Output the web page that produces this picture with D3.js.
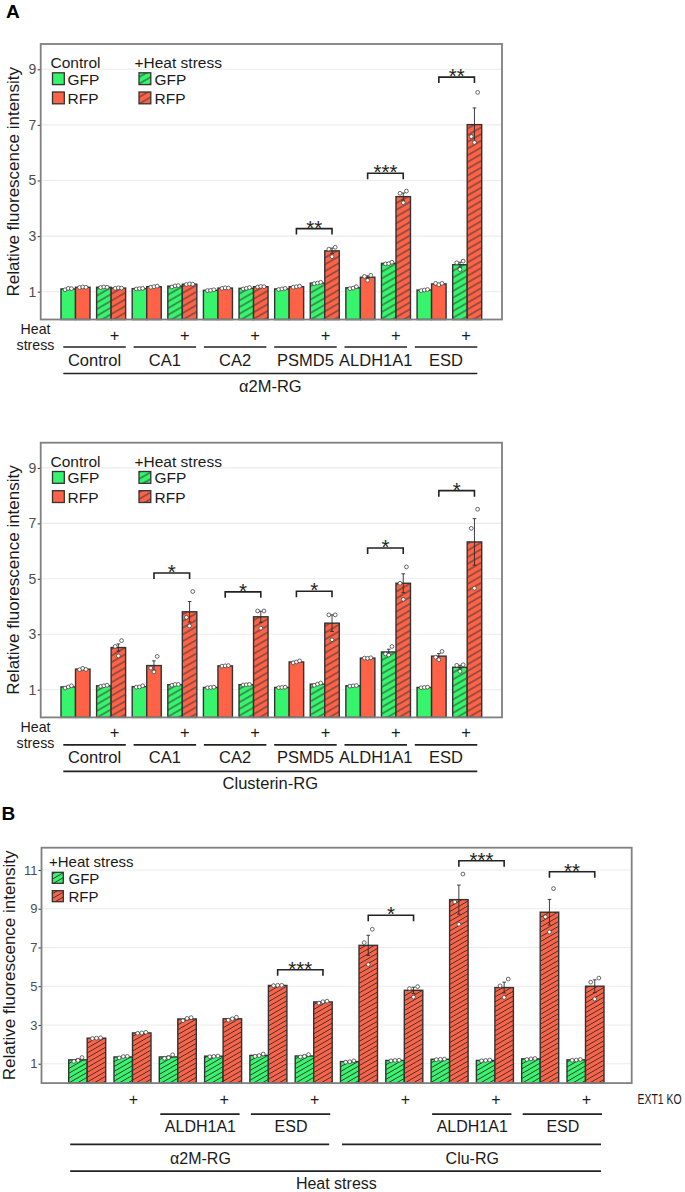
<!DOCTYPE html>
<html><head><meta charset="utf-8">
<script src="https://cdn.jsdelivr.net/npm/d3@7/dist/d3.min.js"></script>
<style>html,body{margin:0;padding:0;background:#fff}</style>
</head><body>
<svg id="fig" width="685" height="1192" xmlns="http://www.w3.org/2000/svg"></svg>
<script>
// ================= DATA =================
const seriesNames = ["GFP", "RFP"];
const groupsA = ["Control", "CA1", "CA2", "PSMD5", "ALDH1A1", "ESD"];
const conditionsA = ["control", "heat"];
const reporterA1 = "α2M-RG";
const reporterA2 = "Clusterin-RG";
const yTicksA = [1, 3, 5, 7, 9];
const yTicksB = [1, 3, 5, 7, 9, 11];
const legendControl = "Control";
const legendHeat = "+Heat stress";
const yTitle = "Relative fluorescence intensity";
const heatStressRowLabel = ["Heat", "stress"];

// --- Panel A, α2M-RG (pairs: group x condition) ---
const a1GFP   = [1.10, 1.16, 1.11, 1.20, 1.05, 1.12, 1.10, 1.31, 1.14, 2.02, 1.06, 1.97];
const a1GFPse = [0.02, 0.01, 0.01, 0.02, 0.01, 0.02, 0.01, 0.02, 0.02, 0.02, 0.01, 0.09];
const a1GFPpts = [[1.07,1.12,1.11],[1.15,1.17,1.16],[1.10,1.11,1.12],[1.17,1.21,1.22],[1.04,1.05,1.07],[1.10,1.12,1.15],
                  [1.08,1.10,1.12],[1.29,1.31,1.34],[1.11,1.13,1.18],[2.00,2.01,2.06],[1.04,1.06,1.08],[2.04,1.80,2.10]];
const a1RFP   = [1.16, 1.13, 1.18, 1.27, 1.13, 1.18, 1.18, 2.47, 1.52, 4.42, 1.28, 7.01];
const a1RFPse = [0.01, 0.01, 0.01, 0.01, 0.01, 0.01, 0.01, 0.10, 0.05, 0.13, 0.02, 0.60];
const a1RFPpts = [[1.15,1.17,1.16],[1.12,1.14,1.13],[1.16,1.18,1.20],[1.26,1.28,1.27],[1.12,1.14,1.13],[1.17,1.19,1.18],
                  [1.16,1.18,1.20],[2.53,2.26,2.60],[1.55,1.41,1.59],[4.54,4.20,4.62],[1.30,1.25,1.30],[6.58,6.37,8.17]];
const a1Brackets = [{from: 6, to: 7, y: 3.27, label: "**"}, {from: 8, to: 9, y: 5.26, label: "***"}, {from: 10, to: 11, y: 8.72, label: "**"}];

// --- Panel A, Clusterin-RG ---
const a2GFP   = [1.10, 1.14, 1.11, 1.18, 1.08, 1.18, 1.08, 1.20, 1.14, 2.36, 1.08, 1.81];
const a2GFPse = [0.02, 0.01, 0.02, 0.01, 0.01, 0.01, 0.01, 0.02, 0.01, 0.10, 0.01, 0.07];
const a2GFPpts = [[1.06,1.10,1.14],[1.12,1.14,1.16],[1.09,1.10,1.14],[1.16,1.19,1.19],[1.07,1.08,1.09],[1.17,1.18,1.19],
                  [1.07,1.08,1.09],[1.16,1.20,1.24],[1.13,1.14,1.15],[2.29,2.25,2.56],[1.07,1.08,1.09],[1.88,1.66,1.90]];
const a2RFP   = [1.74, 2.52, 1.87, 3.81, 1.86, 3.63, 2.00, 3.40, 2.14, 4.84, 2.21, 6.33];
const a2RFPse = [0.02, 0.13, 0.17, 0.37, 0.01, 0.20, 0.03, 0.30, 0.01, 0.34, 0.09, 0.84];
const a2RFPpts = [[1.72,1.77,1.73],[2.56,2.22,2.77],[1.78,1.64,2.20],[3.61,3.30,4.54],[1.85,1.86,1.87],[3.84,3.22,3.84],
                  [1.97,2.00,2.04],[3.70,2.80,3.70],[2.14,2.13,2.15],[4.84,4.26,5.43],[2.17,2.08,2.38],[6.82,4.66,7.51]];
const a2Brackets = [{from: 2, to: 3, y: 5.21, label: "*"}, {from: 4, to: 5, y: 4.53, label: "*"}, {from: 6, to: 7, y: 4.55, label: "*"},
                    {from: 8, to: 9, y: 6.11, label: "*"}, {from: 10, to: 11, y: 8.18, label: "*"}];

// --- Panel B (all heat stress): reporter x gene x EXT1 KO ---
const reportersB = ["α2M-RG", "Clu-RG"];
const genesB = ["", "ALDH1A1", "ESD"];
const koB = ["", "+"];
const koLabel = "EXT1 KO";
const bottomLabelB = "Heat stress";
const bGFP   = [1.20, 1.35, 1.35, 1.39, 1.43, 1.40, 1.11, 1.17, 1.23, 1.17, 1.25, 1.20];
const bGFPse = [0.06, 0.03, 0.05, 0.01, 0.04, 0.04, 0.02, 0.01, 0.01, 0.01, 0.01, 0.01];
const bGFPpts = [[1.12,1.17,1.32],[1.30,1.37,1.38],[1.28,1.31,1.46],[1.36,1.38,1.40],[1.38,1.42,1.50],[1.35,1.38,1.47],
                 [1.08,1.10,1.15],[1.15,1.17,1.18],[1.21,1.23,1.24],[1.15,1.17,1.19],[1.22,1.25,1.27],[1.18,1.19,1.22]];
const bRFP   = [2.32, 2.59, 3.31, 3.32, 5.04, 4.19, 7.11, 4.79, 9.47, 4.93, 8.82, 5.00];
const bRFPse = [0.02, 0.02, 0.05, 0.04, 0.01, 0.03, 0.52, 0.16, 0.75, 0.28, 0.66, 0.33];
const bRFPpts = [[2.30,2.32,2.34],[2.57,2.59,2.62],[3.22,3.34,3.38],[3.25,3.32,3.40],[5.03,5.05,5.05],[4.13,4.20,4.23],
                 [7.25,6.12,7.94],[4.88,4.44,4.98],[9.35,8.20,10.79],[5.02,4.42,5.37],[8.58,7.80,10.04],[5.21,4.34,5.42]];
const bBrackets = [{from: 4, to: 5, y: 5.85, label: "***"}, {from: 6, to: 7, y: 8.66, label: "*"},
                   {from: 8, to: 9, y: 11.48, label: "***"}, {from: 10, to: 11, y: 10.91, label: "**"}];

// ================= STYLE =================
const FONT = "'Liberation Sans', Arial, Helvetica, sans-serif";
const COLOR = {GFP: "#36F46B", RFP: "#FF6347"};
const INK = "#1a1a1a";
const BAR_STROKE = "#333333";

const svg = d3.select("#fig").attr("font-family", FONT);
const defs = svg.append("defs");

function makeHatch(id, color, spacing) {
  const p = defs.append("pattern").attr("id", id).attr("patternUnits", "userSpaceOnUse")
    .attr("width", 40).attr("height", spacing).attr("patternTransform", "rotate(-30)");
  p.append("rect").attr("width", 40).attr("height", spacing).attr("fill", color);
  p.append("line").attr("x1", 0).attr("x2", 40).attr("y1", spacing / 2).attr("y2", spacing / 2)
    .attr("stroke", "#353535").attr("stroke-width", 1);
}
makeHatch("hA_GFP", COLOR.GFP, 5.8);
makeHatch("hA_RFP", COLOR.RFP, 5.8);
makeHatch("hB_GFP", COLOR.GFP, 4.2);
makeHatch("hB_RFP", COLOR.RFP, 4.2);

function drawPanel(c) {
  const g = svg.append("g");
  const y = d3.scaleLinear().domain(c.yDomain).range([c.y1, c.y0]);
  const x = d3.scaleBand().domain(c.pairIds).range(c.pairRange).paddingInner(c.pad).paddingOuter(c.pad / 2);
  const xs = d3.scaleBand().domain(seriesNames).range([0, x.bandwidth()]);
  const bw = xs.bandwidth();

  // grid
  g.append("g").selectAll("line").data(c.ticks).join("line")
    .attr("x1", c.x0).attr("x2", c.x1).attr("y1", d => y(d)).attr("y2", d => y(d))
    .attr("stroke", "#ebebeb").attr("stroke-width", 1.1);

  // y axis
  const ax = g.append("g").attr("transform", `translate(${c.x0},0)`)
    .call(d3.axisLeft(y).tickValues(c.ticks).tickSize(3).tickPadding(c.tickPad).tickFormat(d3.format("d")));
  ax.attr("font-family", FONT).attr("font-size", c.tickFont);
  ax.select(".domain").remove();
  ax.selectAll(".tick line").attr("stroke", "#333");
  ax.selectAll(".tick text").attr("fill", "#4d4d4d");

  // y title
  g.append("text").attr("transform", `translate(${c.titleX},${(c.y0 + c.y1) / 2}) rotate(-90)`)
    .attr("text-anchor", "middle").attr("font-size", 17).attr("fill", INK).text(yTitle);

  // bars
  const bars = [];
  c.pairIds.forEach((id, i) => {
    seriesNames.forEach(s => {
      bars.push({id, s, v: c.vals[s][i], se: c.se[s][i], pts: c.pts[s][i], hatch: c.hatch[i]});
    });
  });
  const bx = d => x(d.id) + xs(d.s);
  g.append("g").selectAll("rect").data(bars).join("rect")
    .attr("x", bx).attr("y", d => y(d.v)).attr("width", bw).attr("height", d => y(c.yDomain[0]) - y(d.v))
    .attr("fill", d => d.hatch ? `url(#${c.pat}${d.s})` : COLOR[d.s])
    .attr("stroke", BAR_STROKE).attr("stroke-width", 1.4);

  // error bars
  const eg = g.append("g").attr("stroke", "#2a2a2a").attr("stroke-width", 0.9);
  bars.forEach(d => {
    const cx = bx(d) + bw / 2;
    eg.append("line").attr("x1", cx).attr("x2", cx).attr("y1", y(d.v - d.se)).attr("y2", y(d.v + d.se));
    [d.v - d.se, d.v + d.se].forEach(e => {
      eg.append("line").attr("x1", cx - 1.8).attr("x2", cx + 1.8).attr("y1", y(e)).attr("y2", y(e));
    });
  });

  // points
  const jitter = [-0.22, 0, 0.22];
  const pg = g.append("g");
  bars.forEach(d => {
    d.pts.forEach((p, k) => {
      pg.append("circle").attr("cx", bx(d) + bw / 2 + jitter[k] * bw).attr("cy", y(p)).attr("r", 1.9)
        .attr("fill", "#fff").attr("stroke", "#444").attr("stroke-width", 0.8);
    });
  });

  // frame
  g.append("rect").attr("x", c.x0).attr("y", c.y0).attr("width", c.x1 - c.x0).attr("height", c.y1 - c.y0)
    .attr("fill", "none").attr("stroke", "#808080").attr("stroke-width", 1.8);

  // significance brackets
  const bg = g.append("g");
  c.brackets.forEach(b => {
    const xl = x(c.pairIds[b.from]) + xs("RFP") + bw / 2;
    const xr = x(c.pairIds[b.to]) + xs("RFP") + bw / 2;
    const yb = y(b.y);
    bg.append("path").attr("d", `M${xl},${yb + 6}V${yb}H${xr}V${yb + 6}`)
      .attr("fill", "none").attr("stroke", "#222").attr("stroke-width", 1.6);
    bg.append("text").attr("x", (xl + xr) / 2).attr("y", yb + 6).attr("text-anchor", "middle")
      .attr("font-size", 20.5).attr("fill", "#222").text(b.label);
  });
  return {x, xs, y, bw};
}

function swatch(x, y, size, fill) {
  svg.append("rect").attr("x", x).attr("y", y).attr("width", size).attr("height", size)
    .attr("fill", fill).attr("stroke", BAR_STROKE).attr("stroke-width", 1.3);
}
function label(x, y, txt, size, anchor) {
  return svg.append("text").attr("x", x).attr("y", y).attr("font-size", size).attr("fill", INK)
    .attr("text-anchor", anchor || "start").text(txt);
}

// ---------- Panel A charts ----------
const pairIdsA = groupsA.flatMap(gname => conditionsA.map(cn => gname + "|" + cn));
const hatchA = pairIdsA.map(id => id.endsWith("|heat"));

function drawA(frameTop, frameBottom, reporter, vals, se, pts, brackets) {
  drawPanel({
    x0: 40.7, x1: 502, y0: frameTop, y1: frameBottom, yDomain: [0, 9.91], ticks: yTicksA,
    pairIds: pairIdsA, pairRange: [57.7, 485], pad: 0.185, tickFont: 14, tickPad: 1.5, titleX: 19,
    vals, se, pts, hatch: hatchA, brackets, pat: "hA_"
  });
  // legend
  label(50.5, frameTop + 24.3, legendControl, 15.5);
  label(134.5, frameTop + 24.3, legendHeat, 15.5);
  seriesNames.forEach((s, i) => {
    const top = frameTop + 28.8 + i * 19.2;
    swatch(52.5, top, 11.8, COLOR[s]);
    label(67.5, top + 11.8, s, 15.5);
    swatch(139, top, 11.8, `url(#hA_${s})`);
    label(154.5, top + 11.8, s, 15.5);
  });
  // x annotations
  const b = frameBottom;
  const gs = d3.scaleBand().domain(groupsA).range([59.4, 481.2]).paddingInner(0.111).paddingOuter(0.0555);
  heatStressRowLabel.forEach((t, i) => {
    label(35.5, b + 14.6 + i * 16.3, t, 14.2, "middle");
  });
  groupsA.forEach(gname => {
    const gx = gs(gname), gw = gs.bandwidth();
    label(gx + 0.82 * gw, b + 21, "+", 16.5, "middle");
    svg.append("line").attr("x1", gx).attr("x2", gx + gw).attr("y1", b + 27.5).attr("y2", b + 27.5)
      .attr("stroke", "#222").attr("stroke-width", 1.6);
    label(gx + gw / 2, b + 46, gname, 16.5, "middle");
  });
  const gx0 = gs(groupsA[0]), gx1 = gs(groupsA[groupsA.length - 1]) + gs.bandwidth();
  svg.append("line").attr("x1", gx0).attr("x2", gx1).attr("y1", b + 54).attr("y2", b + 54)
    .attr("stroke", "#222").attr("stroke-width", 1.6);
  label((gx0 + gx1) / 2, b + 72, reporter, 16.5, "middle");
}

svg.append("text").attr("x", 6).attr("y", 18.3).attr("font-size", 19).attr("font-weight", "bold").attr("fill", "#000").text("A");
drawA(44, 319.5, reporterA1, {GFP: a1GFP, RFP: a1RFP}, {GFP: a1GFPse, RFP: a1RFPse}, {GFP: a1GFPpts, RFP: a1RFPpts}, a1Brackets);
drawA(442.7, 717.4, reporterA2, {GFP: a2GFP, RFP: a2RFP}, {GFP: a2GFPse, RFP: a2RFPse}, {GFP: a2GFPpts, RFP: a2RFPpts}, a2Brackets);

// ---------- Panel B ----------
svg.append("text").attr("x", 1.5).attr("y", 820).attr("font-size", 19).attr("font-weight", "bold").attr("fill", "#000").text("B");
const pairIdsB = reportersB.flatMap(rp => genesB.flatMap(gn => koB.map(k => rp + "|" + gn + "|" + k)));
const rB = drawPanel({
  x0: 41.5, x1: 631.7, y0: 847.7, y1: 1083.1, yDomain: [0, 12.15], ticks: yTicksB,
  pairIds: pairIdsB, pairRange: [64.55, 608.15], pad: 0.183, tickFont: 13, tickPad: 1, titleX: 15,
  vals: {GFP: bGFP, RFP: bRFP}, se: {GFP: bGFPse, RFP: bRFPse}, pts: {GFP: bGFPpts, RFP: bRFPpts},
  hatch: pairIdsB.map(() => true), brackets: bBrackets, pat: "hB_"
});
// legend B
label(49, 847.7 + 19.6, legendHeat, 15);
seriesNames.forEach((s, i) => {
  const top = 847.7 + 24.6 + i * 18.4;
  swatch(52.3, top, 11, `url(#hB_${s})`);
  label(68.5, top + 11.3, s, 15);
});
// x annotations B
{
  const b = 1083.1;
  const x = rB.x, pw = x.bandwidth();
  const line = (x1, x2, yy) => svg.append("line").attr("x1", x1).attr("x2", x2).attr("y1", yy).attr("y2", yy)
    .attr("stroke", "#222").attr("stroke-width", 1.6);
  pairIdsB.forEach(id => {
    if (id.endsWith("|+")) label(x(id) + pw / 2 + 1, b + 22, "+", 16, "middle");
  });
  svg.append("text").attr("transform", `translate(637.5,${b + 21.3}) scale(0.72,1)`)
    .attr("font-size", 14.5).attr("fill", INK).text(koLabel);
  reportersB.forEach(rp => {
    genesB.forEach(gn => {
      if (!gn) return;
      const x1 = x(rp + "|" + gn + "|"), x2 = x(rp + "|" + gn + "|+") + pw;
      line(x1 + 1, x2 - 2, b + 31);
      label((x1 + x2) / 2, b + 48.7, gn, 16, "middle");
    });
    const x1 = x(rp + "|" + genesB[0] + "|" + koB[0]);
    const x2 = x(rp + "|" + genesB[genesB.length - 1] + "|" + koB[koB.length - 1]) + pw;
    line(x1 + 1.5, x2 - 3, b + 61.3);
    label((x1 + x2) / 2, b + 81.3, rp, 16, "middle");
  });
  const xa = x(pairIdsB[0]), xb = x(pairIdsB[pairIdsB.length - 1]) + pw;
  line(xa + 1.5, xb - 3, b + 88);
  label((xa + xb) / 2, b + 106.3, bottomLabelB, 16, "middle");
}
</script>
</body></html>
